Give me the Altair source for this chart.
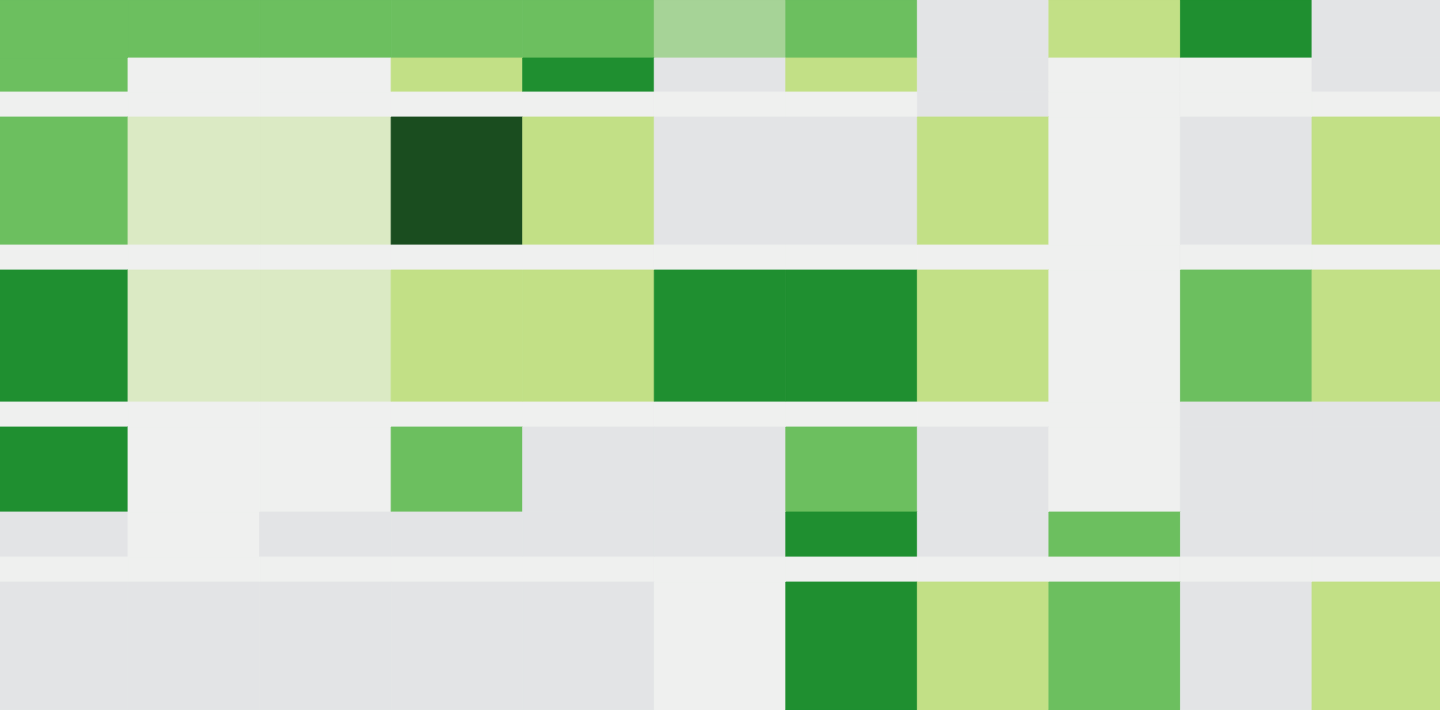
import altair as alt
import pandas as pd

# Column indices (11 columns) and horizontal band edges (top -> bottom)
columns = list(range(11))
row_edges = [0, 58, 92, 117, 245, 270, 402, 427, 512, 557, 582, 710]

# Level of each cell: rows top -> bottom, columns left -> right
levels = ["gray", "light", "pale", "lime", "faded", "mid", "green", "dark"]
colors = ["#e3e4e6", "#eff0ef", "#dbeac4", "#c2e086", "#a6d397", "#6cbf5f", "#1f8f30", "#1a4d1f"]

grid = [
    ["mid", "mid", "mid", "mid", "mid", "faded", "mid", "gray", "lime", "green", "gray"],
    ["mid", "light", "light", "lime", "green", "gray", "lime", "gray", "light", "light", "gray"],
    ["light", "light", "light", "light", "light", "light", "light", "gray", "light", "light", "light"],
    ["mid", "pale", "pale", "dark", "lime", "gray", "gray", "lime", "light", "gray", "lime"],
    ["light", "light", "light", "light", "light", "light", "light", "light", "light", "light", "light"],
    ["green", "pale", "pale", "lime", "lime", "green", "green", "lime", "light", "mid", "lime"],
    ["light", "light", "light", "light", "light", "light", "light", "light", "light", "gray", "gray"],
    ["green", "light", "light", "mid", "gray", "gray", "mid", "gray", "light", "gray", "gray"],
    ["gray", "light", "gray", "gray", "gray", "gray", "green", "gray", "mid", "gray", "gray"],
    ["light", "light", "light", "light", "light", "light", "light", "light", "light", "light", "light"],
    ["gray", "gray", "gray", "gray", "gray", "light", "green", "lime", "mid", "gray", "lime"],
]

records = []
for r, row in enumerate(grid):
    for c, lvl in enumerate(row):
        records.append({
            "left": columns[c],
            "right": columns[c] + 1,
            "top": row_edges[r],
            "bottom": row_edges[r + 1],
            "level": lvl,
        })
df = pd.DataFrame(records)

level_scale = alt.Scale(domain=levels, range=colors)

chart = (
    alt.Chart(df)
    .mark_rect(strokeWidth=0.8, clip=True)
    .encode(
        x=alt.X("left:Q", scale=alt.Scale(domain=[0.027, 10.973], nice=False, zero=False), axis=None),
        x2="right:Q",
        y=alt.Y("top:Q", scale=alt.Scale(domain=[0, 710], reverse=True, nice=False, zero=False), axis=None),
        y2="bottom:Q",
        color=alt.Color("level:N", scale=level_scale, legend=None),
        stroke=alt.Stroke("level:N", scale=level_scale, legend=None),
    )
    .properties(width=1440, height=710, padding=0, background="#eff0ef")
    .configure_view(strokeWidth=0)
)

chart.save("out.html", embed_options={"renderer": "svg", "actions": False})
